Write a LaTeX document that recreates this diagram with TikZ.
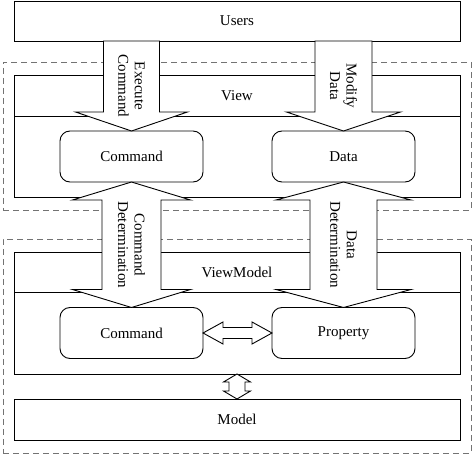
\documentclass[tikz,border=0pt]{standalone}
\usepackage{fontspec}
\setmainfont{Liberation Serif}
\usetikzlibrary{positioning,calc,fit}

% single block arrow: tail, tip, shaft half width, head half width, head length
\newcommand{\blockarrow}[5]{%
  \coordinate (hb) at ($(#2)!#5!(#1)$);
  \draw[fatarrow] ($(#1)!#3!90:(#2)$) -- ($(hb)!#3!90:(#2)$) -- ($(hb)!#4!90:(#2)$) -- (#2)
    -- ($(hb)!#4!-90:(#2)$) -- ($(hb)!#3!-90:(#2)$) -- ($(#1)!#3!-90:(#2)$) -- cycle;
}
% double block arrow: end, end, shaft half width, head half width, head length
\newcommand{\dblarrow}[5]{%
  \coordinate (ha) at ($(#1)!#5!(#2)$);
  \coordinate (hb) at ($(#2)!#5!(#1)$);
  \draw[fatarrow] (#1) -- ($(ha)!#4!90:(#2)$) -- ($(ha)!#3!90:(#2)$) -- ($(hb)!#3!90:(#2)$)
    -- ($(hb)!#4!90:(#2)$) -- (#2) -- ($(hb)!#4!-90:(#2)$) -- ($(hb)!#3!-90:(#2)$)
    -- ($(ha)!#3!-90:(#2)$) -- ($(ha)!#4!-90:(#2)$) -- cycle;
}

\begin{document}
\begin{tikzpicture}[
    x=1pt, y=-1pt,
    line width=0.9pt,
    font=\fontsize{15}{17}\selectfont,
    layer/.style={rectangle, draw, minimum width=446pt, inner sep=0pt, outer sep=0pt},
    comp/.style={rectangle, draw, rounded corners=10pt, minimum width=143pt, minimum height=51pt, inner sep=0pt, outer sep=0pt},
    group/.style={rectangle, draw=black!55, dash pattern=on 6pt off 4pt, inner xsep=11pt, inner ysep=13pt},
    fatarrow/.style={draw, fill=white, line join=miter},
    vlabel/.style={rotate=-90, align=center, inner sep=0pt, font=\fontsize{15}{16.5}\selectfont},
]
\useasboundingbox (0,0) rectangle (474,454);

\node[layer, minimum height=40pt] (users) at (237,21) {Users};
\node[layer, minimum height=41pt, below=34pt of users] (viewtitle) {View};
\node[layer, minimum height=81pt, below=0pt of viewtitle] (viewbody) {};
\node[layer, minimum height=40pt, below=55pt of viewbody] (vmtitle) {ViewModel};
\node[layer, minimum height=82pt, below=0pt of vmtitle] (vmbody) {};
\node[layer, minimum height=41pt, below=25pt of vmbody] (model) {Model};

\node[comp, right=46pt of viewbody.west] (vcmd) {Command};
\node[comp, right=69pt of vcmd] (vdata) {Data};
\node[comp, right=46pt of vmbody.west] (mcmd) {Command};
\node[comp, right=69pt of mcmd] (mprop) {Property};

% dashed layers
\node[group, fit=(viewtitle)(viewbody)] (viewgroup) {};
\node[group, fit=(vmtitle)(model)] (vmgroup) {};

% arrows
\coordinate (ucmd) at (users.south -| vcmd.north);
\coordinate (udata) at (users.south -| vdata.north);
\blockarrow{ucmd}{vcmd.north}{28pt}{56pt}{19pt}
\blockarrow{udata}{vdata.north}{28.5pt}{57pt}{19pt}
\dblarrow{vcmd.south}{mcmd.north}{29.5pt}{59pt}{18pt}
\dblarrow{vdata.south}{mprop.north}{33.5pt}{67.5pt}{18pt}
\dblarrow{mcmd.east}{mprop.west}{5.5pt}{11pt}{20pt}
\dblarrow{vmbody.south}{model.north}{8pt}{13.5pt}{8pt}

% arrow labels
\node[vlabel] (lblexec) at ($(ucmd)!0.5!(vcmd.north)$) {Execute\\Command};
\node[vlabel] (lblmod) at ($(udata)!0.5!(vdata.north)$) {Modify\\Data};
\node[vlabel] (lblcmd) at ($(vcmd.south)!0.5!(mcmd.north)$) {Command\\Determination};
\node[vlabel] (lbldata) at ($(vdata.south)!0.5!(mprop.north)$) {Data\\Determination};

\end{tikzpicture}
\end{document}
